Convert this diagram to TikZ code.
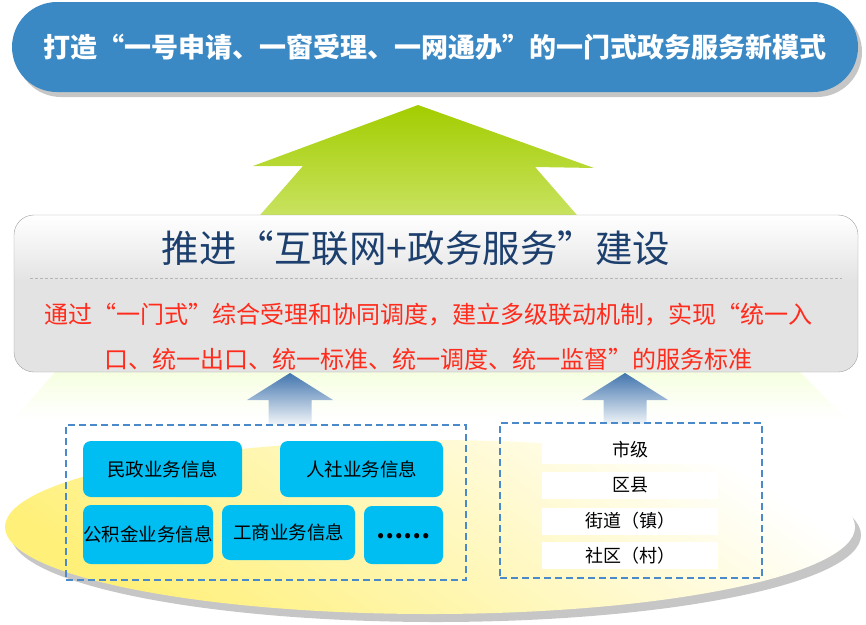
\documentclass[tikz,border=0pt]{standalone}
\usepackage{fontspec}
\usepackage{tikz}
\usetikzlibrary{positioning}
\newfontfamily\cjk{Noto Sans CJK SC}
\definecolor{goalblue}{HTML}{3B89C4}
\definecolor{shadowgray}{HTML}{C6C6C6}
\definecolor{greentop}{HTML}{A3CD00}
\definecolor{greenbottom}{HTML}{CDE56C}
\definecolor{panelgray}{HTML}{E3E3E3}
\definecolor{panelline}{HTML}{A3A3A3}
\definecolor{titleblue}{HTML}{1C3F6D}
\definecolor{notered}{HTML}{FF2B1C}
\definecolor{infocyan}{HTML}{00BDF2}
\definecolor{groupblue}{HTML}{4A8ACA}
\definecolor{liftblue}{HTML}{4275AE}
\definecolor{discyellow}{HTML}{FFF07A}
\newcommand{\liftarrow}[1]{%
  \shade[top color=liftblue, bottom color=liftblue!8]
    (#1,373) -- (#1+43,400) -- (#1+21.5,400) -- (#1+21.5,424)
    -- (#1-21.5,424) -- (#1-21.5,400) -- (#1-43,400) -- cycle;}

\begin{document}
\begin{tikzpicture}[x=1pt, y=-1pt,
  infobox/.style={fill=infocyan, rounded corners=8pt, inner sep=0pt,
    font=\cjk\fontsize{18.5}{20}\selectfont},
  levelbar/.style={fill=white, inner sep=0pt, minimum width=176pt, minimum height=27pt,
    font=\cjk\fontsize{18}{20}\selectfont},
  groupbox/.style={draw=groupblue, line width=1.8pt, dash pattern=on 7pt off 4pt, inner sep=0pt}]
  \useasboundingbox (0,0) rectangle (866,624);
  % Glow below the panel
  \shade[top color=green!30!yellow!12, bottom color=white]
    (55,372) -- (800,372) -- (845,418) -- (15,418) -- cycle;
  % Disc
  \fill[shadowgray] (436,535) ellipse [x radius=425, y radius=87];
  \shade[top color=white, bottom color=discyellow, shading angle=-35]
    (430,527) ellipse [x radius=425, y radius=87];
  % Green arrow
  \shade[top color=greentop, bottom color=greenbottom]
    (418,105) -- (594,168) -- (535,167) -- (590,230) -- (247,230) -- (303,166) -- (253,166) -- cycle;
  % Goal
  \fill[shadowgray, rounded corners=45pt] (16,7) rectangle (862,97);
  \node[fill=goalblue, rounded corners=45pt, minimum width=846pt, minimum height=90pt,
    text=white, font=\cjk\bfseries\fontsize{27}{29}\selectfont] (goal) at (435,47)
    {打造“一号申请、一窗受理、一网通办”的一门式政务服务新模式};
  % Panel
  \fill[panelgray, rounded corners=20pt] (14,215) rectangle (858,372);
  \begin{scope}
    \clip[rounded corners=20pt] (14,215) rectangle (858,372);
    \shade[top color=white, bottom color=panelgray] (14,215) rectangle (858,282);
  \end{scope}
  \draw[panelline, rounded corners=20pt] (14,215) coordinate (panelnw) rectangle (858,372) coordinate (panelse);
  \node[text=titleblue, font=\cjk\fontsize{37.5}{40}\selectfont] (panel) at (416,248)
    {推进“互联网+政务服务”建设};
  \draw[panelline!80, dash pattern=on 3pt off 2pt] (30,278) -- (842,278);
  \node[text=notered, align=center, font=\cjk\fontsize{24}{45}\selectfont] (note) at (428,337)
    {通过“一门式”综合受理和协同调度，建立多级联动机制，实现“统一入\\
     口、统一出口、统一标准、统一调度、统一监督”的服务标准};
  % Lift arrows
  \liftarrow{290}
  \liftarrow{625}
  % Business information
  \node[groupbox, minimum width=400pt, minimum height=155pt] (business) at (266,502.5) {};
  \node[infobox, minimum width=159pt, minimum height=56pt] (minzheng) at (162.5,469) {民政业务信息};
  \node[infobox, minimum width=163pt, minimum height=56pt] (renshe) at (361.5,469) {人社业务信息};
  \node[infobox, minimum width=130pt, minimum height=59pt] (gongjijin) at (148,534.5) {公积金业务信息};
  \node[infobox, minimum width=133pt, minimum height=55pt] (gongshang) at (288.5,532.5) {工商业务信息};
  \node[infobox, minimum width=79pt, minimum height=58pt] (more) at (403.5,535)
    {\raisebox{-7pt}{\bfseries\fontsize{24}{24}\selectfont ……}};
  % Levels
  \node[groupbox, minimum width=262pt, minimum height=155pt] (levels) at (631,500.5) {};
  \node[levelbar] (city) at (630,450) {市级};
  \node[levelbar] (county) at (630,485.5) {区县};
  \node[levelbar] (street) at (630,521) {街道（镇）};
  \node[levelbar] (community) at (630,555.5) {社区（村）};
\end{tikzpicture}
\end{document}
